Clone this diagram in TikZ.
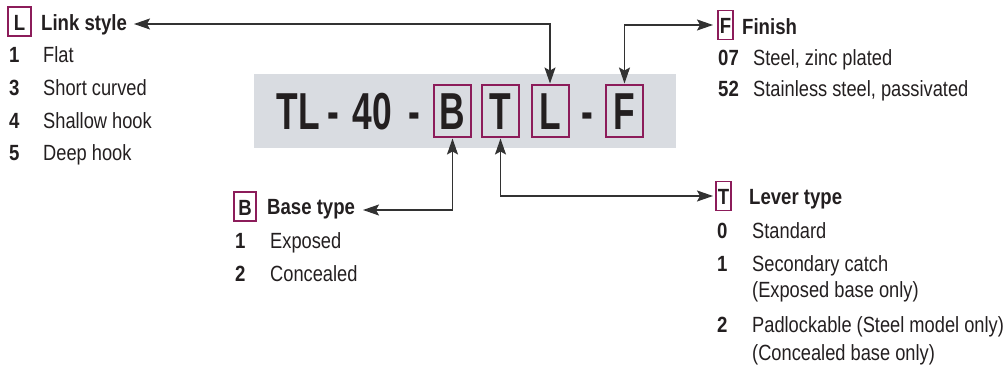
\documentclass[tikz,border=0pt]{standalone}
\usepackage{fontspec}
\setmainfont{Liberation Sans}[FakeStretch=0.83]
\newfontfamily\hdfont{Liberation Sans}[FakeStretch=0.845]
\newfontfamily\bigfont{Liberation Sans}[FakeStretch=0.68]
\usetikzlibrary{arrows.meta}
\definecolor{ink}{RGB}{35,31,32}
\definecolor{lnk}{RGB}{50,50,50}
\definecolor{plum}{RGB}{140,28,90}
\definecolor{panel}{RGB}{217,220,225}
\begin{document}
\begin{tikzpicture}[x=1pt,y=-1pt,
  txt/.style={anchor=base west,inner sep=0pt,text=ink,font=\fontsize{22}{26}\selectfont},
  num/.style={txt,font=\hdfont\bfseries\fontsize{22}{26}\selectfont},
  head/.style={txt,font=\hdfont\bfseries\fontsize{22}{26}\selectfont},
  hbox/.style={draw=plum,line width=1.5pt,text=ink,font=\hdfont\bfseries\fontsize{22}{26}\selectfont,
    text height=18pt,text depth=0pt,inner ysep=5.5pt,inner xsep=0pt,minimum height=29pt,outer sep=0pt},
  bigtxt/.style={anchor=base,inner sep=0pt,text=ink,font=\bigfont\bfseries\fontsize{52}{52}\selectfont},
  bigbox/.style={draw=plum,line width=2pt,text=ink,font=\bigfont\bfseries\fontsize{52}{52}\selectfont,
    text height=37pt,text depth=0pt,inner ysep=7.5pt,inner xsep=0pt,minimum width=37pt,minimum height=52pt,outer sep=0pt},
  con/.style={draw=lnk,line width=1.3pt,{Stealth[length=16pt,width=11pt,inset=3pt]}-{Stealth[length=16pt,width=11pt,inset=3pt]},shorten >=1.5pt}
]
\useasboundingbox (0,0) rectangle (1005,366);
\fill[panel] (254,74) rectangle (676,148);

% code line
\node[bigtxt] (tl) at (298,130) {TL};
\node[bigtxt] (d1) at (333,130) {-};
\node[bigtxt] (n40) at (372.5,130) {40};
\node[bigtxt] (d2) at (414.5,130) {-};
\node[bigbox] (Bbig) at (452.5,111) {B};
\node[bigbox] (Tbig) at (500.5,111) {T};
\node[bigbox] (Lbig) at (550,111) {L};
\node[bigtxt] (d3) at (587,130) {-};
\node[bigbox] (Fbig) at (624.5,111) {F};

% Link style
\node[hbox,minimum width=23pt] (Lh) at (19.5,21.5) {L};
\node[head] (Lt) at (41,31) {Link style};
\node[num] (l1n) at (9,63) {1};   \node[txt] (l1) at (43,63) {Flat};
\node[num] (l3n) at (9,96) {3};   \node[txt] (l3) at (43,96) {Short curved};
\node[num] (l4n) at (9,129) {4};  \node[txt] (l4) at (43,129) {Shallow hook};
\node[num] (l5n) at (9,161) {5};  \node[txt] (l5) at (43,161) {Deep hook};

% Finish
\node[hbox,minimum width=15pt] (Fh) at (725.5,25) {F};
\node[head] (Ft) at (742,35) {Finish};
\node[num] (f7n) at (718,66) {07}; \node[txt] (f7) at (753,66) {Steel, zinc plated};
\node[num] (f5n) at (718,97) {52}; \node[txt] (f5) at (753,97) {Stainless steel, passivated};

% Base type
\node[hbox,minimum width=22pt] (Bh) at (245,206.5) {B};
\node[head] (Bt) at (267,215) {Base type};
\node[num] (b1n) at (235,249) {1}; \node[txt] (b1) at (270,249) {Exposed};
\node[num] (b2n) at (235,282) {2}; \node[txt] (b2) at (270,282) {Concealed};

% Lever type
\node[hbox,minimum width=15pt] (Th) at (723.5,196) {T};
\node[head] (Tt) at (749,205) {Lever type};
\node[num] (t0n) at (717,239) {0}; \node[txt] (t0) at (752,239) {Standard};
\node[num] (t1n) at (717,272) {1}; \node[txt] (t1) at (752,272) {Secondary catch};
\node[txt] (t1b) at (752,298) {(Exposed base only)};
\node[num] (t2n) at (717,333) {2}; \node[txt] (t2) at (752,333) {Padlockable (Steel model only)};
\node[txt] (t2b) at (752,360) {(Concealed base only)};

% connectors
\coordinate (la) at (134,24);
\coordinate (fa) at (713,25);
\coordinate (ba) at (363,210);
\coordinate (ta) at (713,196);
\draw[con] (la) -| (Lbig.north);
\draw[con] (fa) -| (Fbig.north);
\draw[con] (ba) -| (Bbig.south);
\draw[con] (ta) -| (Tbig.south);
\end{tikzpicture}
\end{document}
